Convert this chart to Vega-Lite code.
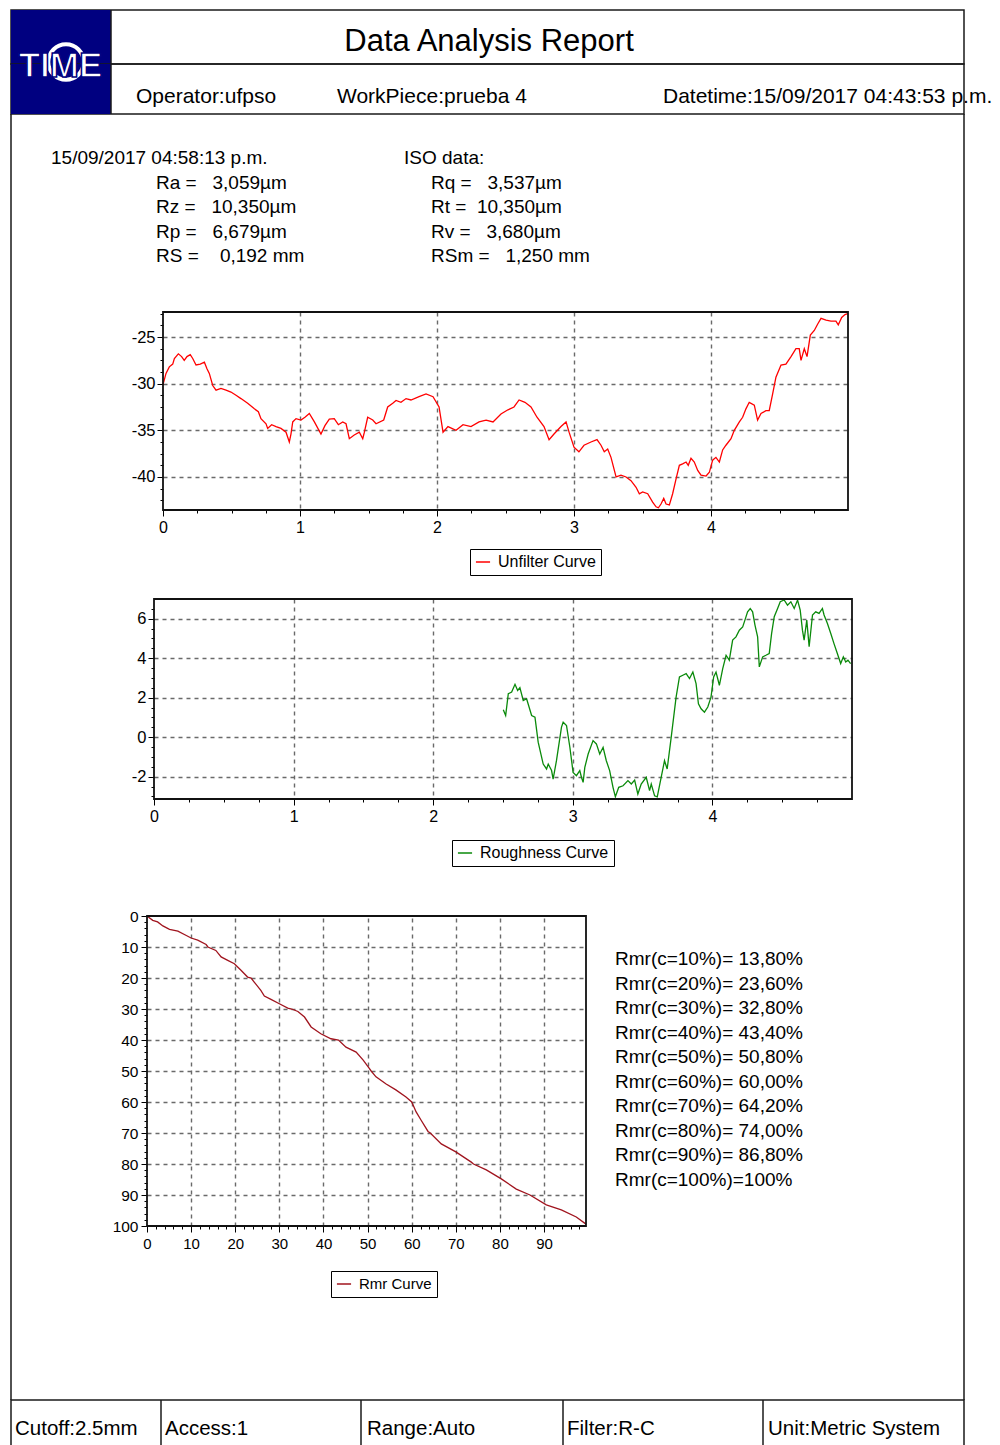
{
  "$schema": "https://vega.github.io/schema/vega-lite/v6.json",
  "background": "white",
  "padding": {"left": 10, "top": 8, "right": 37, "bottom": 0},
  "autosize": {"type": "pad"},
  "spacing": 0,
  "bounds": "flush",
  "resolve": {"scale": {"color": "independent"}, "legend": {"color": "independent"}},
  "config": {
    "font": "Liberation Sans",
    "text": {"font": "Liberation Sans", "color": "black"},
    "axis": {"labelFont": "Liberation Sans", "labelColor": "black", "tickColor": "black", "tickWidth": 1, "domain": false, "gridColor": "#6a6a6a", "gridDash": [4, 4], "gridWidth": 1.4, "labelOverlap": false, "labelFlush": false},
    "legend": {"labelFont": "Liberation Sans", "labelColor": "black"}
  },
  "vconcat": [
    {
      "width": 953, "height": 54,
      "view": {"stroke": "#1a1a1a", "strokeWidth": 1.5},
      "data": {"values": [{"t": "Data Analysis Report"}]},
      "layer": [
        {"mark": {"type": "rect", "fill": "#000080"},
         "encoding": {"x": {"datum": 0, "type": "quantitative", "scale": {"domain": [0, 953], "nice": false, "zero": false}, "axis": null}, "x2": {"datum": 100}}},
        {"mark": {"type": "rule", "stroke": "#1a1a1a", "strokeWidth": 1.5},
         "encoding": {"x": {"datum": 100, "type": "quantitative", "scale": {"domain": [0, 953], "nice": false, "zero": false}, "axis": null}}},
        {"mark": {"type": "text", "fontSize": 31, "align": "center"},
         "encoding": {"x": {"datum": 478, "type": "quantitative", "scale": {"domain": [0, 953], "nice": false, "zero": false}, "axis": null},
                      "y": {"datum": 32, "type": "quantitative", "scale": {"domain": [0, 54], "reverse": true, "nice": false, "zero": false}, "axis": null},
                      "text": {"field": "t"}}}
      ]
    },
    {
      "width": 953, "height": 50,
      "view": {"stroke": "#1a1a1a", "strokeWidth": 1.5},
      "data": {"values": [{"t": "TIME"}]},
      "layer": [
        {"mark": {"type": "rect", "fill": "#000080"},
         "encoding": {"x": {"datum": 0, "type": "quantitative", "scale": {"domain": [0, 953], "nice": false, "zero": false}, "axis": null}, "x2": {"datum": 100}}},
        {"mark": {"type": "point", "shape": "circle", "filled": false, "stroke": "white", "strokeWidth": 4, "size": 1250, "opacity": 1},
         "encoding": {"x": {"datum": 55, "type": "quantitative", "scale": {"domain": [0, 953], "nice": false, "zero": false}, "axis": null},
                      "y": {"datum": -2, "type": "quantitative", "scale": {"domain": [0, 50], "reverse": true, "nice": false, "zero": false}, "axis": null}}},
        {"mark": {"type": "text", "fontSize": 35, "fontWeight": "bold", "color": "white", "align": "center", "stroke": "#000080", "strokeWidth": 1.5},
         "encoding": {"x": {"datum": 49.5, "type": "quantitative"}, "y": {"datum": 2, "type": "quantitative"}, "text": {"field": "t"}}},
        {"mark": {"type": "rule", "stroke": "#1a1a1a", "strokeWidth": 1.5},
         "encoding": {"x": {"datum": 100, "type": "quantitative"}}},
        {"data": {"values": [{"t": "Operator:ufpso"}]},
         "mark": {"type": "text", "fontSize": 21, "align": "left"},
         "encoding": {"x": {"datum": 125, "type": "quantitative"}, "y": {"datum": 33, "type": "quantitative"}, "text": {"field": "t"}}},
        {"data": {"values": [{"t": "WorkPiece:prueba 4"}]},
         "mark": {"type": "text", "fontSize": 21, "align": "left"},
         "encoding": {"x": {"datum": 326, "type": "quantitative"}, "y": {"datum": 33, "type": "quantitative"}, "text": {"field": "t"}}},
        {"data": {"values": [{"t": "Datetime:15/09/2017 04:43:53 p.m."}]},
         "mark": {"type": "text", "fontSize": 21, "align": "left"},
         "encoding": {"x": {"datum": 652, "type": "quantitative"}, "y": {"datum": 33, "type": "quantitative"}, "text": {"field": "t"}}}
      ]
    },
    {
      "width": 953, "height": 198,
      "view": {"stroke": "#1a1a1a", "strokeWidth": 1.5, "strokeDash": [0, 953, 198, 953, 198]},
      "data": {"values": [
        {"side": "L", "line": 0, "t": "15/09/2017 04:58:13 p.m."},
        {"side": "L", "line": 1, "t": "Ra =\u00a0\u00a0\u00a03,059µm"},
        {"side": "L", "line": 2, "t": "Rz =\u00a0\u00a0\u00a010,350µm"},
        {"side": "L", "line": 3, "t": "Rp =\u00a0\u00a0\u00a06,679µm"},
        {"side": "L", "line": 4, "t": "RS =\u00a0\u00a0\u00a0\u00a00,192 mm"},
        {"side": "R", "line": 0, "t": "ISO data:"},
        {"side": "R", "line": 1, "t": "Rq =\u00a0\u00a0\u00a03,537µm"},
        {"side": "R", "line": 2, "t": "\u00a0Rt =\u00a0\u00a010,350µm"},
        {"side": "R", "line": 3, "t": "Rv =\u00a0\u00a0\u00a03,680µm"},
        {"side": "R", "line": 4, "t": "\u00a0RSm =\u00a0\u00a0\u00a01,250 mm"}
      ]},
      "layer": [
        {"transform": [{"filter": "datum.side === 'L' && datum.line === 0"}],
         "mark": {"type": "text", "fontSize": 19, "align": "left"},
         "encoding": {"x": {"datum": 40, "type": "quantitative", "scale": {"domain": [0, 953], "nice": false, "zero": false}, "axis": null},
                      "y": {"field": "line", "type": "ordinal", "scale": {"type": "point", "domain": [0, 1, 2, 3, 4], "range": [44, 142], "padding": 0}, "axis": null},
                      "text": {"field": "t"}}},
        {"transform": [{"filter": "datum.side === 'L' && datum.line > 0"}],
         "mark": {"type": "text", "fontSize": 19, "align": "left"},
         "encoding": {"x": {"datum": 145, "type": "quantitative"}, "y": {"field": "line", "type": "ordinal"}, "text": {"field": "t"}}},
        {"transform": [{"filter": "datum.side === 'R' && datum.line === 0"}],
         "mark": {"type": "text", "fontSize": 19, "align": "left"},
         "encoding": {"x": {"datum": 393, "type": "quantitative"}, "y": {"field": "line", "type": "ordinal"}, "text": {"field": "t"}}},
        {"transform": [{"filter": "datum.side === 'R' && datum.line > 0"}],
         "mark": {"type": "text", "fontSize": 19, "align": "left"},
         "encoding": {"x": {"datum": 420, "type": "quantitative"}, "y": {"field": "line", "type": "ordinal"}, "text": {"field": "t"}}}
      ]
    },
    {
      "width": 953, "height": 198,
      "view": {"stroke": "#1a1a1a", "strokeWidth": 1.5, "strokeDash": [0, 953, 198, 953, 198]},
      "resolve": {"scale": {"x": "independent", "y": "independent"}, "axis": {"x": "independent", "y": "independent"}},
      "layer": [
        {"data": {"values": [
          {"x":0,"y":-30.1},{"x":0.022,"y":-28.9},{"x":0.046,"y":-28.2},{"x":0.071,"y":-27.9},{"x":0.083,"y":-27.3},{"x":0.112,"y":-26.8},{"x":0.136,"y":-27.1},{"x":0.155,"y":-27.5},{"x":0.175,"y":-27.1},{"x":0.199,"y":-26.9},{"x":0.217,"y":-27.3},{"x":0.241,"y":-28.0},{"x":0.272,"y":-27.9},{"x":0.302,"y":-27.7},{"x":0.321,"y":-28.4},{"x":0.338,"y":-28.9},{"x":0.363,"y":-30.2},{"x":0.387,"y":-30.7},{"x":0.423,"y":-30.5},{"x":0.46,"y":-30.7},{"x":0.496,"y":-30.9},{"x":0.533,"y":-31.25},{"x":0.569,"y":-31.6},{"x":0.618,"y":-32.1},{"x":0.667,"y":-32.7},{"x":0.696,"y":-33.0},{"x":0.715,"y":-33.75},{"x":0.752,"y":-34.3},{"x":0.764,"y":-34.8},{"x":0.793,"y":-34.4},{"x":0.825,"y":-34.6},{"x":0.861,"y":-34.8},{"x":0.898,"y":-35.2},{"x":0.922,"y":-36.25},{"x":0.934,"y":-35.4},{"x":0.947,"y":-34.1},{"x":0.971,"y":-33.75},{"x":1.007,"y":-33.9},{"x":1.036,"y":-33.6},{"x":1.068,"y":-33.2},{"x":1.105,"y":-34.1},{"x":1.153,"y":-35.4},{"x":1.182,"y":-34.5},{"x":1.214,"y":-33.8},{"x":1.25,"y":-33.75},{"x":1.28,"y":-34.4},{"x":1.312,"y":-34.1},{"x":1.336,"y":-34.3},{"x":1.36,"y":-35.9},{"x":1.396,"y":-35.5},{"x":1.433,"y":-35.2},{"x":1.458,"y":-35.9},{"x":1.47,"y":-35.2},{"x":1.494,"y":-33.6},{"x":1.531,"y":-33.9},{"x":1.555,"y":-34.3},{"x":1.611,"y":-33.9},{"x":1.64,"y":-32.5},{"x":1.677,"y":-32.1},{"x":1.701,"y":-31.8},{"x":1.737,"y":-32.0},{"x":1.774,"y":-31.6},{"x":1.81,"y":-31.75},{"x":1.869,"y":-31.4},{"x":1.92,"y":-31.1},{"x":1.971,"y":-31.4},{"x":2.015,"y":-32.5},{"x":2.044,"y":-35.2},{"x":2.08,"y":-34.6},{"x":2.139,"y":-35.0},{"x":2.19,"y":-34.4},{"x":2.248,"y":-34.6},{"x":2.307,"y":-34.1},{"x":2.358,"y":-33.9},{"x":2.409,"y":-34.1},{"x":2.467,"y":-33.25},{"x":2.518,"y":-32.8},{"x":2.562,"y":-32.5},{"x":2.599,"y":-31.75},{"x":2.642,"y":-32.0},{"x":2.686,"y":-32.5},{"x":2.73,"y":-33.6},{"x":2.781,"y":-34.6},{"x":2.818,"y":-36.0},{"x":2.854,"y":-35.4},{"x":2.905,"y":-34.6},{"x":2.942,"y":-34.1},{"x":2.964,"y":-35.2},{"x":3.0,"y":-36.8},{"x":3.036,"y":-37.3},{"x":3.073,"y":-36.6},{"x":3.124,"y":-36.25},{"x":3.168,"y":-36.0},{"x":3.197,"y":-36.6},{"x":3.221,"y":-37.3},{"x":3.246,"y":-37.0},{"x":3.27,"y":-37.9},{"x":3.307,"y":-40.0},{"x":3.343,"y":-39.8},{"x":3.38,"y":-40.0},{"x":3.416,"y":-40.4},{"x":3.453,"y":-41.1},{"x":3.477,"y":-41.8},{"x":3.501,"y":-41.6},{"x":3.538,"y":-41.8},{"x":3.574,"y":-42.7},{"x":3.599,"y":-43.2},{"x":3.616,"y":-43.3},{"x":3.635,"y":-42.9},{"x":3.655,"y":-42.3},{"x":3.672,"y":-42.9},{"x":3.696,"y":-43.0},{"x":3.72,"y":-41.8},{"x":3.745,"y":-40.2},{"x":3.769,"y":-38.75},{"x":3.793,"y":-38.6},{"x":3.818,"y":-38.4},{"x":3.834,"y":-38.75},{"x":3.854,"y":-38.0},{"x":3.878,"y":-38.4},{"x":3.903,"y":-39.3},{"x":3.927,"y":-39.8},{"x":3.964,"y":-39.9},{"x":3.988,"y":-39.5},{"x":4.012,"y":-38.2},{"x":4.036,"y":-37.9},{"x":4.061,"y":-38.4},{"x":4.085,"y":-37.1},{"x":4.109,"y":-36.6},{"x":4.146,"y":-35.9},{"x":4.17,"y":-35.0},{"x":4.207,"y":-34.1},{"x":4.231,"y":-33.6},{"x":4.255,"y":-32.7},{"x":4.279,"y":-32.0},{"x":4.316,"y":-32.3},{"x":4.34,"y":-33.9},{"x":4.365,"y":-33.2},{"x":4.401,"y":-32.9},{"x":4.425,"y":-32.9},{"x":4.45,"y":-31.1},{"x":4.474,"y":-29.3},{"x":4.511,"y":-28.0},{"x":4.547,"y":-27.9},{"x":4.584,"y":-27.1},{"x":4.62,"y":-26.25},{"x":4.644,"y":-26.25},{"x":4.657,"y":-27.5},{"x":4.681,"y":-26.25},{"x":4.701,"y":-27.1},{"x":4.725,"y":-24.8},{"x":4.754,"y":-24.3},{"x":4.779,"y":-23.6},{"x":4.803,"y":-23.0},{"x":4.84,"y":-23.2},{"x":4.876,"y":-23.3},{"x":4.912,"y":-23.3},{"x":4.929,"y":-23.7},{"x":4.954,"y":-22.9},{"x":4.978,"y":-22.6},{"x":4.998,"y":-22.5}
        ]},
         "mark": {"type": "line", "strokeWidth": 1.3},
         "encoding": {
           "x": {"field": "x", "type": "quantitative",
                 "scale": {"domain": [0, 5], "range": [152, 837], "nice": false, "zero": false},
                 "axis": {"title": null, "orient": "bottom", "values": [0,0.25,0.5,0.75,1,1.25,1.5,1.75,2,2.25,2.5,2.75,3,3.25,3.5,3.75,4,4.25,4.5,4.75],
                          "labelExpr": "datum.value % 1 === 0 ? '' + datum.value : ''",
                          "tickSize": {"condition": {"test": "datum.value % 1 === 0", "value": 6}, "value": 3},
                          "grid": true, "gridOpacity": {"condition": {"test": "datum.value % 1 === 0 && datum.value > 0", "value": 1}, "value": 0},
                          "labelPadding": 3, "labelFontSize": 16}},
           "y": {"field": "y", "type": "quantitative",
                 "scale": {"domain": [-43.54, -22.32], "nice": false, "zero": false},
                 "axis": {"title": null, "orient": "left", "offset": -152, "values": [-42.5,-41.25,-40,-38.75,-37.5,-36.25,-35,-33.75,-32.5,-31.25,-30,-28.75,-27.5,-26.25,-25,-23.75,-22.5],
                          "labelExpr": "datum.value % 5 === 0 ? '' + datum.value : ''",
                          "tickSize": {"condition": {"test": "datum.value % 5 === 0", "value": 6}, "value": 3},
                          "grid": true, "gridOpacity": {"condition": {"test": "datum.value % 5 === 0", "value": 1}, "value": 0},
                          "labelPadding": 2, "labelFontSize": 16.5}},
           "color": {"datum": "Unfilter Curve", "scale": {"range": ["#ff0000"]},
                     "legend": {"orient": "none", "legendX": 459, "legendY": 237, "title": null, "strokeColor": "black", "fillColor": "white", "padding": 5, "symbolType": "stroke", "symbolSize": 200, "symbolStrokeWidth": 1.5, "labelFontSize": 16, "labelOffset": 7}}
         }},
        {"data": {"values": [{}]},
         "mark": {"type": "rect", "fill": "transparent", "stroke": "#111111", "strokeWidth": 1.8},
         "encoding": {"x": {"datum": 0, "type": "quantitative", "scale": {"domain": [0, 5], "range": [152, 837], "nice": false, "zero": false}, "axis": null}, "x2": {"datum": 5},
                      "y": {"datum": -43.54, "type": "quantitative", "scale": {"domain": [-43.54, -22.32], "nice": false, "zero": false}, "axis": null}, "y2": {"datum": -22.32}}}
      ]
    },
    {
      "width": 953, "height": 89,
      "view": {"stroke": "#1a1a1a", "strokeWidth": 1.5, "strokeDash": [0, 953, 89, 953, 89]},
      "data": {"values": [{}]},
      "mark": {"type": "point", "opacity": 0}
    },
    {
      "width": 953, "height": 200,
      "view": {"stroke": "#1a1a1a", "strokeWidth": 1.5, "strokeDash": [0, 953, 200, 953, 200]},
      "resolve": {"scale": {"x": "independent", "y": "independent"}, "axis": {"x": "independent", "y": "independent"}},
      "layer": [
        {"data": {"values": [
          {"x":2.502,"y":1.39},{"x":2.519,"y":1.1},{"x":2.538,"y":2.2},{"x":2.562,"y":2.29},{"x":2.586,"y":2.68},{"x":2.605,"y":2.37},{"x":2.621,"y":2.51},{"x":2.645,"y":1.86},{"x":2.669,"y":1.95},{"x":2.705,"y":1.1},{"x":2.729,"y":1.02},{"x":2.752,"y":-0.25},{"x":2.788,"y":-1.36},{"x":2.812,"y":-1.61},{"x":2.824,"y":-1.36},{"x":2.848,"y":-1.69},{"x":2.859,"y":-2.12},{"x":2.883,"y":-1.19},{"x":2.919,"y":0.51},{"x":2.931,"y":0.76},{"x":2.955,"y":0.59},{"x":2.979,"y":-0.51},{"x":3.002,"y":-1.78},{"x":3.026,"y":-1.95},{"x":3.05,"y":-1.69},{"x":3.062,"y":-2.03},{"x":3.074,"y":-2.29},{"x":3.086,"y":-1.53},{"x":3.11,"y":-0.85},{"x":3.145,"y":-0.17},{"x":3.169,"y":-0.34},{"x":3.193,"y":-0.85},{"x":3.217,"y":-0.51},{"x":3.24,"y":-1.19},{"x":3.264,"y":-1.69},{"x":3.288,"y":-2.54},{"x":3.305,"y":-3.02},{"x":3.329,"y":-2.54},{"x":3.36,"y":-2.46},{"x":3.395,"y":-2.2},{"x":3.419,"y":-2.37},{"x":3.443,"y":-2.17},{"x":3.466,"y":-2.88},{"x":3.49,"y":-2.37},{"x":3.526,"y":-2.03},{"x":3.55,"y":-2.71},{"x":3.562,"y":-2.37},{"x":3.586,"y":-2.97},{"x":3.605,"y":-3.02},{"x":3.633,"y":-2.03},{"x":3.657,"y":-1.19},{"x":3.676,"y":-1.61},{"x":3.705,"y":0.0},{"x":3.74,"y":2.03},{"x":3.764,"y":3.05},{"x":3.788,"y":3.14},{"x":3.812,"y":3.22},{"x":3.836,"y":2.97},{"x":3.86,"y":3.3},{"x":3.883,"y":2.71},{"x":3.9,"y":1.69},{"x":3.919,"y":1.44},{"x":3.943,"y":1.27},{"x":3.967,"y":1.53},{"x":3.99,"y":2.03},{"x":4.009,"y":3.05},{"x":4.026,"y":3.3},{"x":4.05,"y":2.63},{"x":4.074,"y":3.47},{"x":4.098,"y":4.15},{"x":4.121,"y":3.9},{"x":4.145,"y":4.92},{"x":4.169,"y":5.08},{"x":4.193,"y":5.42},{"x":4.217,"y":5.59},{"x":4.233,"y":5.93},{"x":4.252,"y":6.35},{"x":4.271,"y":6.52},{"x":4.288,"y":6.35},{"x":4.305,"y":5.68},{"x":4.324,"y":5.08},{"x":4.336,"y":3.56},{"x":4.36,"y":4.07},{"x":4.383,"y":4.15},{"x":4.407,"y":4.24},{"x":4.424,"y":5.25},{"x":4.443,"y":6.1},{"x":4.467,"y":6.52},{"x":4.486,"y":6.86},{"x":4.514,"y":6.95},{"x":4.538,"y":6.69},{"x":4.562,"y":6.86},{"x":4.586,"y":6.52},{"x":4.61,"y":6.95},{"x":4.629,"y":6.44},{"x":4.645,"y":5.42},{"x":4.657,"y":4.92},{"x":4.676,"y":5.93},{"x":4.693,"y":4.58},{"x":4.717,"y":6.19},{"x":4.74,"y":6.35},{"x":4.764,"y":6.27},{"x":4.788,"y":6.52},{"x":4.8,"y":6.19},{"x":4.824,"y":5.76},{"x":4.848,"y":5.25},{"x":4.871,"y":4.74},{"x":4.895,"y":4.24},{"x":4.919,"y":3.73},{"x":4.938,"y":4.07},{"x":4.955,"y":3.81},{"x":4.971,"y":3.9},{"x":4.99,"y":3.73}
        ]},
         "mark": {"type": "line", "strokeWidth": 1.3},
         "encoding": {
           "x": {"field": "x", "type": "quantitative",
                 "scale": {"domain": [0, 5], "range": [143, 841], "nice": false, "zero": false},
                 "axis": {"title": null, "orient": "bottom", "values": [0,0.25,0.5,0.75,1,1.25,1.5,1.75,2,2.25,2.5,2.75,3,3.25,3.5,3.75,4,4.25,4.5,4.75],
                          "labelExpr": "datum.value % 1 === 0 ? '' + datum.value : ''",
                          "tickSize": {"condition": {"test": "datum.value % 1 === 0", "value": 6}, "value": 3},
                          "grid": true, "gridOpacity": {"condition": {"test": "datum.value % 1 === 0 && datum.value > 0", "value": 1}, "value": 0},
                          "labelPadding": 3, "labelFontSize": 16}},
           "y": {"field": "y", "type": "quantitative",
                 "scale": {"domain": [-3.13, 7.0], "nice": false, "zero": false},
                 "axis": {"title": null, "orient": "left", "offset": -143, "values": [-3,-2.5,-2,-1.5,-1,-0.5,0,0.5,1,1.5,2,2.5,3,3.5,4,4.5,5,5.5,6,6.5],
                          "labelExpr": "datum.value % 2 === 0 ? '' + datum.value : ''",
                          "tickSize": {"condition": {"test": "datum.value % 2 === 0", "value": 6}, "value": 3},
                          "grid": true, "gridOpacity": {"condition": {"test": "datum.value % 2 === 0", "value": 1}, "value": 0},
                          "labelPadding": 2, "labelFontSize": 16.5}},
           "color": {"datum": "Roughness Curve", "scale": {"range": ["#0a8a0a"]},
                     "legend": {"orient": "none", "legendX": 441, "legendY": 241, "title": null, "strokeColor": "black", "fillColor": "white", "padding": 5, "symbolType": "stroke", "symbolSize": 200, "symbolStrokeWidth": 1.5, "labelFontSize": 16, "labelOffset": 7}}
         }},
        {"data": {"values": [{}]},
         "mark": {"type": "rect", "fill": "transparent", "stroke": "#111111", "strokeWidth": 1.8},
         "encoding": {"x": {"datum": 0, "type": "quantitative", "scale": {"domain": [0, 5], "range": [143, 841], "nice": false, "zero": false}, "axis": null}, "x2": {"datum": 5},
                      "y": {"datum": -3.13, "type": "quantitative", "scale": {"domain": [-3.13, 7.0], "nice": false, "zero": false}, "axis": null}, "y2": {"datum": 7.0}}}
      ]
    },
    {
      "width": 953, "height": 117,
      "view": {"stroke": "#1a1a1a", "strokeWidth": 1.5, "strokeDash": [0, 953, 117, 953, 117]},
      "data": {"values": [{}]},
      "mark": {"type": "point", "opacity": 0}
    },
    {
      "width": 953, "height": 310,
      "view": {"stroke": "#1a1a1a", "strokeWidth": 1.5, "strokeDash": [0, 953, 310, 953, 310]},
      "resolve": {"scale": {"x": "independent", "y": "independent"}, "axis": {"x": "independent", "y": "independent"}},
      "layer": [
        {"data": {"values": [
          {"x":0,"y":0},{"x":1.3,"y":1.4},{"x":2.4,"y":1.9},{"x":3.6,"y":3.2},{"x":5.1,"y":4.3},{"x":7,"y":4.9},{"x":8.8,"y":6.2},{"x":10,"y":7.1},{"x":11.5,"y":7.8},{"x":13.4,"y":9.2},{"x":13.8,"y":10},{"x":15.6,"y":11.1},{"x":16.8,"y":13.2},{"x":18.3,"y":14.3},{"x":19.8,"y":15.4},{"x":21.3,"y":17.5},{"x":22.8,"y":19.7},{"x":23.6,"y":20},{"x":24.3,"y":21.3},{"x":25.8,"y":24},{"x":26.6,"y":25.8},{"x":28.1,"y":26.9},{"x":30,"y":28.3},{"x":31.9,"y":29.7},{"x":32.8,"y":30},{"x":34.2,"y":30.8},{"x":35.7,"y":32.6},{"x":37.2,"y":35.8},{"x":39.4,"y":38},{"x":41.7,"y":39.6},{"x":43.4,"y":40},{"x":45.1,"y":42.3},{"x":47.4,"y":43.9},{"x":49,"y":46.5},{"x":50.3,"y":49},{"x":50.8,"y":50},{"x":51.9,"y":51.9},{"x":54.2,"y":54.2},{"x":56.4,"y":56.1},{"x":58.7,"y":58.4},{"x":60,"y":60},{"x":61,"y":63.2},{"x":62.1,"y":65.8},{"x":63.7,"y":69.5},{"x":64.2,"y":70},{"x":66.7,"y":73.5},{"x":70,"y":76.1},{"x":73.5,"y":79.4},{"x":74,"y":80},{"x":76.9,"y":81.9},{"x":80.3,"y":84.8},{"x":83.7,"y":88.1},{"x":86.8,"y":90},{"x":90.5,"y":93.2},{"x":93.9,"y":94.8},{"x":97.3,"y":97.1},{"x":99.5,"y":99.4}
        ]},
         "mark": {"type": "line", "strokeWidth": 1.3},
         "encoding": {
           "x": {"field": "x", "type": "quantitative",
                 "scale": {"domain": [0, 99.5], "range": [136, 575], "nice": false, "zero": false},
                 "axis": {"title": null, "orient": "bottom", "values": [0,2,4,6,8,10,12,14,16,18,20,22,24,26,28,30,32,34,36,38,40,42,44,46,48,50,52,54,56,58,60,62,64,66,68,70,72,74,76,78,80,82,84,86,88,90,92,94,96,98],
                          "labelExpr": "datum.value % 10 === 0 ? '' + datum.value : ''",
                          "tickSize": {"condition": {"test": "datum.value % 10 === 0", "value": 6}, "value": 3},
                          "grid": true, "gridOpacity": {"condition": {"test": "datum.value % 10 === 0 && datum.value > 0", "value": 1}, "value": 0},
                          "labelPadding": 4, "labelFontSize": 15}},
           "y": {"field": "y", "type": "quantitative",
                 "scale": {"domain": [0, 100], "reverse": true, "nice": false, "zero": false},
                 "axis": {"title": null, "orient": "left", "offset": -136, "values": [0,2,4,6,8,10,12,14,16,18,20,22,24,26,28,30,32,34,36,38,40,42,44,46,48,50,52,54,56,58,60,62,64,66,68,70,72,74,76,78,80,82,84,86,88,90,92,94,96,98,100],
                          "labelExpr": "datum.value % 10 === 0 ? '' + datum.value : ''",
                          "tickSize": {"condition": {"test": "datum.value % 10 === 0", "value": 6}, "value": 3},
                          "grid": true, "gridOpacity": {"condition": {"test": "datum.value % 10 === 0 && datum.value > 0 && datum.value < 100", "value": 1}, "value": 0},
                          "labelPadding": 3, "labelFontSize": 15.5}},
           "color": {"datum": "Rmr Curve", "scale": {"range": ["#a0141e"]},
                     "legend": {"orient": "none", "legendX": 320, "legendY": 355, "title": null, "strokeColor": "black", "fillColor": "white", "padding": 5, "symbolType": "stroke", "symbolSize": 200, "symbolStrokeWidth": 1.5, "labelFontSize": 15, "labelOffset": 7}}
         }},
        {"data": {"values": [{}]},
         "mark": {"type": "rect", "fill": "transparent", "stroke": "#111111", "strokeWidth": 1.8},
         "encoding": {"x": {"datum": 0, "type": "quantitative", "scale": {"domain": [0, 99.5], "range": [136, 575], "nice": false, "zero": false}, "axis": null}, "x2": {"datum": 99.5},
                      "y": {"datum": 0, "type": "quantitative", "scale": {"domain": [0, 100], "reverse": true, "nice": false, "zero": false}, "axis": null}, "y2": {"datum": 100}}},
        {"data": {"values": [
          {"c": 10, "t": "Rmr(c=10%)= 13,80%"},
          {"c": 20, "t": "Rmr(c=20%)= 23,60%"},
          {"c": 30, "t": "Rmr(c=30%)= 32,80%"},
          {"c": 40, "t": "Rmr(c=40%)= 43,40%"},
          {"c": 50, "t": "Rmr(c=50%)= 50,80%"},
          {"c": 60, "t": "Rmr(c=60%)= 60,00%"},
          {"c": 70, "t": "Rmr(c=70%)= 64,20%"},
          {"c": 80, "t": "Rmr(c=80%)= 74,00%"},
          {"c": 90, "t": "Rmr(c=90%)= 86,80%"},
          {"c": 100, "t": "Rmr(c=100%)=100%"}
        ]},
         "mark": {"type": "text", "fontSize": 19, "align": "left"},
         "encoding": {
           "x": {"datum": 604, "type": "quantitative", "scale": {"domain": [0, 953], "nice": false, "zero": false}, "axis": null},
           "y": {"field": "c", "type": "ordinal", "scale": {"type": "point", "range": [43, 263.5], "padding": 0}, "axis": null},
           "text": {"field": "t"}
         }}
      ]
    },
    {
      "width": 953, "height": 174,
      "view": {"stroke": "#1a1a1a", "strokeWidth": 1.5, "strokeDash": [0, 953, 174, 953, 174]},
      "data": {"values": [{}]},
      "mark": {"type": "point", "opacity": 0}
    },
    {
      "width": 953, "height": 47,
      "view": {"stroke": "#1a1a1a", "strokeWidth": 1.5},
      "data": {"values": [{}]},
      "layer": [
        {"mark": {"type": "rule", "stroke": "#1a1a1a", "strokeWidth": 1.5},
         "encoding": {"x": {"datum": 150, "type": "quantitative", "scale": {"domain": [0, 953], "nice": false, "zero": false}, "axis": null}}},
        {"mark": {"type": "rule", "stroke": "#1a1a1a", "strokeWidth": 1.5}, "encoding": {"x": {"datum": 350, "type": "quantitative"}}},
        {"mark": {"type": "rule", "stroke": "#1a1a1a", "strokeWidth": 1.5}, "encoding": {"x": {"datum": 552, "type": "quantitative"}}},
        {"mark": {"type": "rule", "stroke": "#1a1a1a", "strokeWidth": 1.5}, "encoding": {"x": {"datum": 752, "type": "quantitative"}}},
        {"data": {"values": [{"t": "Cutoff:2.5mm"}]},
         "mark": {"type": "text", "fontSize": 20.5, "align": "left"},
         "encoding": {"x": {"datum": 4, "type": "quantitative"}, "y": {"datum": 29, "type": "quantitative", "scale": {"domain": [0, 47], "reverse": true, "nice": false, "zero": false}, "axis": null}, "text": {"field": "t"}}},
        {"data": {"values": [{"t": "Access:1"}]},
         "mark": {"type": "text", "fontSize": 20.5, "align": "left"},
         "encoding": {"x": {"datum": 154, "type": "quantitative"}, "y": {"datum": 29, "type": "quantitative"}, "text": {"field": "t"}}},
        {"data": {"values": [{"t": "Range:Auto"}]},
         "mark": {"type": "text", "fontSize": 20.5, "align": "left"},
         "encoding": {"x": {"datum": 356, "type": "quantitative"}, "y": {"datum": 29, "type": "quantitative"}, "text": {"field": "t"}}},
        {"data": {"values": [{"t": "Filter:R-C"}]},
         "mark": {"type": "text", "fontSize": 20.5, "align": "left"},
         "encoding": {"x": {"datum": 556, "type": "quantitative"}, "y": {"datum": 29, "type": "quantitative"}, "text": {"field": "t"}}},
        {"data": {"values": [{"t": "Unit:Metric System"}]},
         "mark": {"type": "text", "fontSize": 20.5, "align": "left"},
         "encoding": {"x": {"datum": 757, "type": "quantitative"}, "y": {"datum": 29, "type": "quantitative"}, "text": {"field": "t"}}}
      ]
    }
  ]
}
